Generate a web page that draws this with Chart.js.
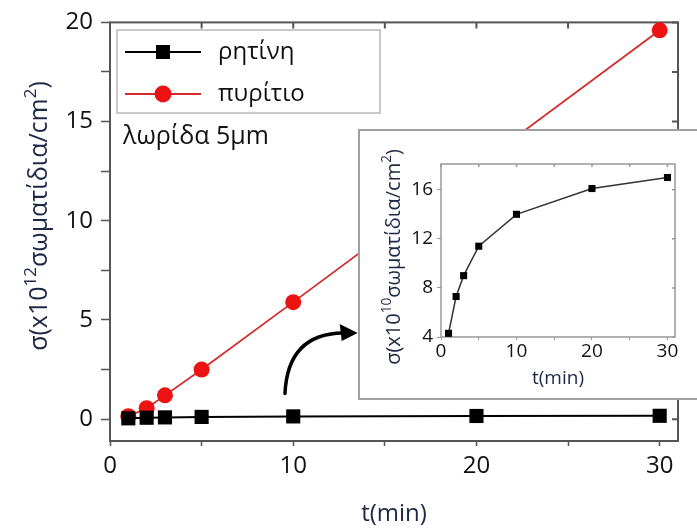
<!DOCTYPE html>
<html>
<head>
<meta charset="utf-8">
<script src="https://cdn.jsdelivr.net/npm/chart.js@4"></script>
<style>
  html, body { margin: 0; padding: 0; background: #fff; overflow: hidden; }
  #wrap { position: relative; width: 697px; height: 529px; }
  #main { position: absolute; left: 0; top: 0; }
  #insetBox { position: absolute; left: 358px; top: 129px; width: 360px; height: 267px; border: 2px solid #a0a0a0; background: #fff; }
  #inset { position: absolute; left: 0; top: 0; }
</style>
</head>
<body>
<div id="wrap">
  <canvas id="main" width="697" height="529"></canvas>
  <div id="insetBox"><canvas id="inset" width="337" height="267"></canvas></div>
</div>
<script>
const FONT = "'Open Sans', 'Noto Sans', sans-serif";
const TITLE_COLOR = '#1c2846';

// data
const times = [1, 2, 3, 5, 10, 20, 30];
const resin = [0.043, 0.073, 0.09, 0.114, 0.14, 0.161, 0.17];        // x10^12
const siliconTimes = [1, 2, 3, 5, 10, 30];
const silicon = [0.15, 0.55, 1.2, 2.5, 5.9, 19.6];                  // x10^12
const resinInset = [4.3, 7.3, 9.0, 11.4, 14.0, 16.1, 17.0];         // x10^10

const mainXTicks = [0, 5, 10, 15, 20, 25, 30];
const mainYTicks = [0, 2.5, 5, 7.5, 10, 12.5, 15, 17.5, 20];
const insetXTicks = [0, 5, 10, 15, 20, 25, 30];
const insetYTicks = [4, 6, 8, 10, 12, 14, 16, 18];

const seriesLabels = ['ρητίνη', 'πυρίτιο'];
const stripLabel = 'λωρίδα 5μm';

// text with superscripts, centred on (x, y)
function drawRich(ctx, parts, x, y, size, color, rotate) {
    ctx.save();
    ctx.translate(x, y);
    if (rotate) ctx.rotate(-Math.PI / 2);
    ctx.fillStyle = color;
    ctx.textBaseline = 'alphabetic';
    ctx.textAlign = 'left';
    const widths = parts.map(p => {
        ctx.font = (p.sup ? size * 0.68 : size) + 'px ' + FONT;
        return ctx.measureText(p.t).width;
    });
    let cx = -widths.reduce((a, b) => a + b, 0) / 2;
    parts.forEach((p, i) => {
        ctx.font = (p.sup ? size * 0.68 : size) + 'px ' + FONT;
        ctx.fillText(p.t, cx, p.sup ? size * 0.35 - size * 0.45 : size * 0.35);
        cx += widths[i];
    });
    ctx.restore();
}

// box around the plot area + inward ticks on top and right
const framePlugin = {
    id: 'frame',
    beforeDatasetsDraw(chart, args, opts) {
        const {ctx, chartArea: a, scales} = chart;
        ctx.save();
        ctx.strokeStyle = opts.color;
        ctx.lineWidth = opts.width;
        ctx.strokeRect(a.left, a.top, a.right - a.left, a.bottom - a.top);
        ctx.beginPath();
        scales.x.ticks.forEach(t => {
            const px = scales.x.getPixelForValue(t.value);
            ctx.moveTo(px, a.top);
            ctx.lineTo(px, a.top + opts.tick);
        });
        scales.y.ticks.forEach(t => {
            const py = scales.y.getPixelForValue(t.value);
            ctx.moveTo(a.right, py);
            ctx.lineTo(a.right - opts.tick, py);
        });
        ctx.stroke();
        ctx.restore();
    }
};

const yTitlePlugin = {
    id: 'yTitle',
    afterDraw(chart, args, opts) {
        drawRich(chart.ctx, opts.parts, opts.x, opts.y, opts.size, TITLE_COLOR, true);
    }
};

// legend box, strip label and the curved arrow pointing to the inset
const decorPlugin = {
    id: 'decor',
    afterDatasetsDraw(chart) {
        const ctx = chart.ctx;
        const ds = chart.data.datasets;
        ctx.save();
        ctx.strokeStyle = '#b8b8b8';
        ctx.lineWidth = 1.5;
        ctx.strokeRect(117, 30, 263, 83);
        const rows = [52, 94];
        ds.forEach((d, i) => {
            const y = rows[i];
            ctx.strokeStyle = d.borderColor;
            ctx.lineWidth = d.borderWidth;
            ctx.beginPath();
            ctx.moveTo(125, y);
            ctx.lineTo(201, y);
            ctx.stroke();
            ctx.fillStyle = d.backgroundColor;
            if (d.pointStyle === 'rect') {
                ctx.fillRect(156, y - 7, 14, 14);
            } else {
                ctx.beginPath();
                ctx.arc(163, y, 8.5, 0, Math.PI * 2);
                ctx.fill();
            }
            ctx.fillStyle = '#111';
            ctx.font = '24px ' + FONT;
            ctx.textBaseline = 'middle';
            ctx.fillText(d.label, 218, y);
        });
        ctx.fillStyle = '#111';
        ctx.font = '25px ' + FONT;
        ctx.textBaseline = 'middle';
        ctx.fillText(stripLabel, 123, 137);

        // arrow
        const x = chart.scales.x, yS = chart.scales.y;
        const p0 = [x.getPixelForValue(9.55), yS.getPixelForValue(1.3)];
        const c = [x.getPixelForValue(9.7), yS.getPixelForValue(4.3)];
        const p1 = [x.getPixelForValue(12.7), yS.getPixelForValue(4.35)];
        ctx.strokeStyle = '#000';
        ctx.lineWidth = 3.5;
        ctx.lineCap = 'round';
        ctx.beginPath();
        ctx.moveTo(p0[0], p0[1]);
        ctx.quadraticCurveTo(c[0], c[1], p1[0], p1[1]);
        ctx.stroke();
        ctx.fillStyle = '#000';
        ctx.beginPath();
        ctx.moveTo(p1[0] - 3, p1[1] - 9);
        ctx.lineTo(p1[0] + 15, p1[1]);
        ctx.lineTo(p1[0] - 1, p1[1] + 8);
        ctx.closePath();
        ctx.fill();
        ctx.restore();
    }
};

new Chart(document.getElementById('main'), {
    type: 'line',
    data: {
        datasets: [{
            label: seriesLabels[0],
            data: times.map((t, i) => ({x: t, y: resin[i]})),
            borderColor: '#000',
            backgroundColor: '#000',
            borderWidth: 2,
            pointStyle: 'rect',
            pointRadius: 10,
            pointBorderWidth: 0,
            order: 0,
            clip: false
        }, {
            label: seriesLabels[1],
            data: siliconTimes.map((t, i) => ({x: t, y: silicon[i]})),
            borderColor: '#d42a2a',
            backgroundColor: '#ec1313',
            borderWidth: 1.8,
            pointStyle: 'circle',
            pointRadius: 8,
            pointBorderWidth: 0,
            order: 1,
            clip: false
        }]
    },
    options: {
        responsive: false,
        animation: false,
        layout: { padding: { top: 21, right: 19, left: 0, bottom: 0 } },
        scales: {
            x: {
                type: 'linear',
                min: 0,
                max: 31,
                afterBuildTicks: s => { s.ticks = mainXTicks.map(v => ({value: v})); },
                afterFit: s => { s.height = 88; },
                ticks: {
                    callback: v => (v % 10 === 0 ? v : ''),
                    font: { family: FONT, size: 24 },
                    color: '#111',
                    padding: 6,
                    maxRotation: 0
                },
                grid: { drawOnChartArea: false, tickLength: 5, color: '#555', tickWidth: 1.5 },
                border: { display: false },
                title: {
                    display: true,
                    text: 't(min)',
                    color: TITLE_COLOR,
                    font: { family: FONT, size: 24 },
                    padding: { top: 0, bottom: 0 }
                }
            },
            y: {
                min: -1.1,
                max: 20,
                afterBuildTicks: s => { s.ticks = mainYTicks.map(v => ({value: v})); },
                afterFit: s => { s.width = 110; },
                ticks: {
                    callback: v => (v % 5 === 0 ? v : ''),
                    font: { family: FONT, size: 24 },
                    color: '#111',
                    padding: 8
                },
                grid: { drawOnChartArea: false, tickLength: 9, color: '#555', tickWidth: 1.5 },
                border: { display: false }
            }
        },
        plugins: {
            legend: { display: false },
            tooltip: { enabled: false },
            frame: { color: '#555', width: 2, tick: 6 },
            yTitle: {
                x: 38, y: 216, size: 25,
                parts: [{t: 'σ(x10'}, {t: '12', sup: true}, {t: 'σωματίδια/cm'}, {t: '2', sup: true}, {t: ')'}]
            }
        }
    },
    plugins: [framePlugin, decorPlugin, yTitlePlugin]
});

new Chart(document.getElementById('inset'), {
    type: 'line',
    data: {
        datasets: [{
            label: seriesLabels[0],
            data: times.map((t, i) => ({x: t, y: resinInset[i]})),
            borderColor: '#333',
            backgroundColor: '#000',
            borderWidth: 1.5,
            pointStyle: 'rect',
            pointRadius: 5,
            pointBorderWidth: 0,
            clip: false
        }]
    },
    options: {
        responsive: false,
        animation: false,
        layout: { padding: { top: 33, right: 22, left: 0, bottom: 0 } },
        scales: {
            x: {
                type: 'linear',
                min: 0,
                max: 31,
                afterBuildTicks: s => { s.ticks = insetXTicks.map(v => ({value: v})); },
                afterFit: s => { s.height = 61; },
                ticks: {
                    callback: v => (v % 10 === 0 ? v : ''),
                    font: { family: FONT, size: 19 },
                    color: '#111',
                    padding: 0,
                    maxRotation: 0
                },
                grid: { drawOnChartArea: false, tickLength: 3, color: '#999' },
                border: { display: false },
                title: {
                    display: true,
                    text: 't(min)',
                    color: TITLE_COLOR,
                    font: { family: FONT, size: 19 },
                    padding: { top: 0, bottom: 8 }
                }
            },
            y: {
                min: 4,
                max: 18.1,
                afterBuildTicks: s => { s.ticks = insetYTicks.map(v => ({value: v})); },
                afterFit: s => { s.width = 81; },
                ticks: {
                    callback: v => (v % 4 === 0 ? v : ''),
                    font: { family: FONT, size: 19 },
                    color: '#111',
                    padding: 4
                },
                grid: { drawOnChartArea: false, tickLength: 4, color: '#999' },
                border: { display: false }
            }
        },
        plugins: {
            legend: { display: false },
            tooltip: { enabled: false },
            frame: { color: '#999', width: 1.5, tick: 3 },
            yTitle: {
                x: 33, y: 126, size: 20,
                parts: [{t: 'σ(x10'}, {t: '10', sup: true}, {t: 'σωματίδια/cm'}, {t: '2', sup: true}, {t: ')'}]
            }
        }
    },
    plugins: [framePlugin, yTitlePlugin]
});
</script>
</body>
</html>
